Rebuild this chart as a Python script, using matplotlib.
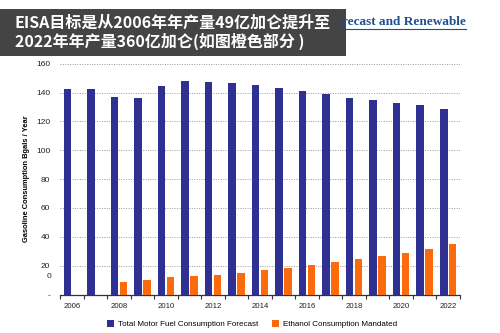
import numpy as np
import matplotlib
matplotlib.use('Agg')
import matplotlib.pyplot as plt
from matplotlib.patches import Rectangle
from matplotlib.lines import Line2D
import matplotlib.transforms as mtransforms

# data (billion gallons / year)
years = list(range(2006, 2023))
motor_fuel = [142.3, 142.3, 137.2, 136.1, 144.6, 148.3, 147.6, 146.9, 145.3,
              143.3, 141.0, 139.0, 136.5, 134.9, 133.0, 131.2, 128.7]
ethanol = [0, 0, 8.4, 10.0, 11.9, 12.6, 13.8, 14.9, 16.8,
           18.7, 20.5, 22.4, 24.3, 26.8, 28.5, 31.7, 34.8]
ytick_vals = [0, 20, 40, 60, 80, 100, 120, 140, 160]
ytick_labels = ['-', '20', '40', '60', '80', '100', '120', '140', '160']
title_cn = 'EISA目标是从2006年年产量49亿加仑提升至\n2022年年产量360亿加仑(如图橙色部分 )'
title_en = 'recast and Renewable'   # visible tail of the slide title

blue = '#2e3192'
orange = '#fb6a0c'
plt.rcParams['font.family'] = ['Liberation Sans', 'DejaVu Sans']

fig = plt.figure(figsize=(5, 3.33), dpi=100)
ax = fig.add_axes([0.12, 0.1156, 0.80, 0.693])

ind = np.arange(len(years))
width = 0.32
ax.bar(ind - 0.19, motor_fuel, width, color=blue, zorder=3,
       label='Total Motor Fuel Consumption Forecast')
ax.bar(ind + 0.19, ethanol, width, color=orange, zorder=3,
       label='Ethanol Consumption Mandated')

ax.set_xlim(-0.5, len(years) - 0.5)
ax.set_ylim(0, 160)

# y axis: no spine, dotted grid
ax.set_yticks(ytick_vals)
ax.set_yticklabels(ytick_labels, fontsize=6)
ax.tick_params(axis='y', length=0, pad=7, colors='#222222')
for v in ytick_vals[1:]:
    ax.axhline(v, color='#999999', lw=0.7, ls=(0, (1, 1.5)), zorder=1)
# stray "0" label that sits just under the 20 line in the original
trans = mtransforms.blended_transform_factory(ax.transAxes, ax.transData)
ax.text(-0.022, 12.6, '0', transform=trans, ha='right', va='center', fontsize=6, color='#222222')

# x axis: ticks at group boundaries, labels every other year
ax.set_xticks(np.arange(-0.5, len(years), 1.0))
ax.set_xticklabels([])
ax.tick_params(axis='x', which='major', length=3, color='#333333')
ax.set_xticks(ind[::2], minor=True)
ax.set_xticklabels([str(y) for y in years[::2]], minor=True, fontsize=5.6)
ax.tick_params(axis='x', which='minor', length=0, pad=6, colors='#222222')

for s in ['top', 'right', 'left']:
    ax.spines[s].set_visible(False)
ax.spines['bottom'].set_color('#333333')
ax.spines['bottom'].set_linewidth(0.9)

ax.set_ylabel('Gasoline Consumption Bgals / Year', fontsize=5.4, fontweight='bold', labelpad=4)

fig.legend(loc='center', bbox_to_anchor=(0.504, 0.026), ncol=2, frameon=False,
           fontsize=5.8, handlelength=0.9, handleheight=0.9, handletextpad=0.5,
           columnspacing=1.6)

# chinese caption box
fig.add_artist(Rectangle((0, 1 - 56 / 333), 346 / 500, 47 / 333, transform=fig.transFigure,
                         facecolor='#3a3a3a', edgecolor='none', alpha=0.95, zorder=5))
fig.text(0.03, 1 - 32.5 / 333, title_cn, ha='left', va='center', fontsize=11.5,
         family=['Noto Sans CJK SC', 'DejaVu Sans'], fontweight='bold', color='white',
         linespacing=1.15, zorder=6)

# original slide title peeking out on the right of the box
fig.text(0.932, 0.935, title_en, ha='right', va='center', fontsize=9.5,
         family='Liberation Serif', fontweight='bold', color='#1f4f8c', zorder=7)
fig.add_artist(Line2D([0.668, 0.932], [0.914, 0.914], color='#1f4f8c', lw=0.8, zorder=7))

fig.savefig('out.png', dpi=100)
